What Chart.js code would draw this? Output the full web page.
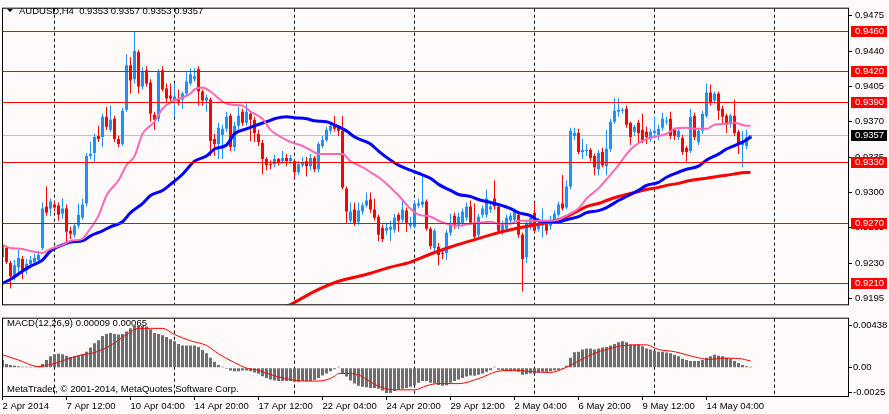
<!DOCTYPE html>
<html>
<head>
<meta charset="utf-8">
<title>AUDUSD,H4</title>
<script src="https://cdn.jsdelivr.net/npm/chart.js@4.4.1/dist/chart.umd.min.js"></script>
<style>
    html, body { margin: 0; padding: 0; background: #FFFAFA; }
    #wrap { position: relative; width: 889px; height: 414px; overflow: hidden; }
    canvas { position: absolute; left: 0; display: block; }
    #price { top: 0; }
    #macd { top: 312px; }
</style>
</head>
<body>
<div id="wrap">
    <canvas id="price" width="889" height="313"></canvas>
    <canvas id="macd" width="889" height="102"></canvas>
</div>
<script>
// H4 bars, index 0 = 2 Apr 2014 20:00 (one slot every 4 hours of trading)
var opens = [
    0.9236, 0.9245, 0.9230, 0.9217, 0.9226, 0.9234, 0.9223, 0.9229, 0.9231, 0.9233,
    0.9245, 0.9286, 0.9284, 0.9288, 0.9287, 0.9279, 0.9284, 0.9262, 0.9258, 0.9267,
    0.9275, 0.9289, 0.9336, 0.9339, 0.9356, 0.9355, 0.9375, 0.9362, 0.9373, 0.9353,
    0.9348, 0.9382, 0.9426, 0.9412, 0.9439, 0.9405, 0.9421, 0.9409, 0.9377, 0.9373,
    0.9421, 0.9403, 0.9396, 0.9391, 0.9392, 0.9392, 0.9398, 0.9408, 0.9412, 0.9422,
    0.9400, 0.9391, 0.9392, 0.9353, 0.9348, 0.9357, 0.9363, 0.9376, 0.9345, 0.9366,
    0.9380, 0.9369, 0.9378, 0.9372, 0.9358, 0.9349, 0.9333, 0.9328, 0.9328, 0.9333,
    0.9331, 0.9334, 0.9331, 0.9331, 0.9320, 0.9327, 0.9331, 0.9326, 0.9334, 0.9323,
    0.9346, 0.9352, 0.9361, 0.9366, 0.9364, 0.9361, 0.9304, 0.9272, 0.9283, 0.9271,
    0.9281, 0.9287, 0.9293, 0.9283, 0.9276, 0.9265, 0.9262, 0.9263, 0.9263, 0.9278,
    0.9273, 0.9282, 0.9267, 0.9266, 0.9287, 0.9288, 0.9291, 0.9264, 0.9245, 0.9246,
    0.9240, 0.9240, 0.9260, 0.9277, 0.9267, 0.9269, 0.9275, 0.9286, 0.9269, 0.9258,
    0.9278, 0.9278, 0.9283, 0.9294, 0.9286, 0.9261, 0.9264, 0.9272, 0.9273, 0.9278,
    0.9258, 0.9236, 0.9266, 0.9280, 0.9264, 0.9267, 0.9269, 0.9267, 0.9272, 0.9278,
    0.9289, 0.9285, 0.9306, 0.9356, 0.9359, 0.9340, 0.9341, 0.9342, 0.9336, 0.9323,
    0.9340, 0.9326, 0.9343, 0.9370, 0.9380, 0.9381, 0.9383, 0.9369, 0.9360, 0.9369,
    0.9362, 0.9360, 0.9355, 0.9359, 0.9357, 0.9364, 0.9370, 0.9373, 0.9362, 0.9355,
    0.9354, 0.9344, 0.9341, 0.9376, 0.9350, 0.9361, 0.9376, 0.9399, 0.9391, 0.9398,
    0.9383, 0.9376, 0.9368, 0.9376, 0.9360, 0.9347, 0.9346, 0.9353
];
var highs = [
    0.9251, 0.9247, 0.9232, 0.9233, 0.9244, 0.9237, 0.9234, 0.9237, 0.9239, 0.9242,
    0.9290, 0.9306, 0.9294, 0.9292, 0.9290, 0.9294, 0.9288, 0.9266, 0.9270, 0.9289,
    0.9294, 0.9339, 0.9350, 0.9358, 0.9366, 0.9378, 0.9385, 0.9386, 0.9376, 0.9356,
    0.9384, 0.9437, 0.9434, 0.9459, 0.9441, 0.9424, 0.9425, 0.9412, 0.9380, 0.9422,
    0.9425, 0.9408, 0.9408, 0.9408, 0.9402, 0.9400, 0.9419, 0.9423, 0.9423, 0.9425,
    0.9402, 0.9397, 0.9394, 0.9358, 0.9369, 0.9367, 0.9380, 0.9378, 0.9370, 0.9385,
    0.9383, 0.9390, 0.9380, 0.9375, 0.9362, 0.9352, 0.9335, 0.9332, 0.9337, 0.9334,
    0.9341, 0.9338, 0.9337, 0.9333, 0.9331, 0.9335, 0.9335, 0.9338, 0.9336, 0.9350,
    0.9356, 0.9365, 0.9370, 0.9376, 0.9366, 0.9376, 0.9306, 0.9290, 0.9290, 0.9290,
    0.9290, 0.9300, 0.9300, 0.9294, 0.9278, 0.9268, 0.9270, 0.9272, 0.9279, 0.9280,
    0.9294, 0.9285, 0.9276, 0.9292, 0.9294, 0.9317, 0.9293, 0.9266, 0.9264, 0.9250,
    0.9242, 0.9263, 0.9279, 0.9280, 0.9280, 0.9284, 0.9290, 0.9292, 0.9289, 0.9279,
    0.9287, 0.9303, 0.9292, 0.9312, 0.9289, 0.9272, 0.9278, 0.9280, 0.9284, 0.9281,
    0.9260, 0.9273, 0.9278, 0.9289, 0.9275, 0.9284, 0.9272, 0.9277, 0.9282, 0.9291,
    0.9317, 0.9312, 0.9364, 0.9364, 0.9363, 0.9353, 0.9348, 0.9344, 0.9338, 0.9342,
    0.9344, 0.9362, 0.9373, 0.9393, 0.9393, 0.9384, 0.9386, 0.9370, 0.9367, 0.9372,
    0.9378, 0.9365, 0.9363, 0.9375, 0.9367, 0.9379, 0.9375, 0.9380, 0.9364, 0.9364,
    0.9357, 0.9346, 0.9383, 0.9379, 0.9364, 0.9381, 0.9408, 0.9407, 0.9400, 0.9400,
    0.9386, 0.9378, 0.9378, 0.9392, 0.9362, 0.9361, 0.9362, 0.9357
];
var lows = [
    0.9233, 0.9229, 0.9205, 0.9213, 0.9217, 0.9214, 0.9219, 0.9225, 0.9228, 0.9230,
    0.9243, 0.9277, 0.9277, 0.9281, 0.9272, 0.9274, 0.9251, 0.9254, 0.9255, 0.9264,
    0.9273, 0.9286, 0.9333, 0.9330, 0.9350, 0.9345, 0.9362, 0.9360, 0.9350, 0.9345,
    0.9346, 0.9380, 0.9398, 0.9408, 0.9398, 0.9402, 0.9405, 0.9370, 0.9362, 0.9370,
    0.9400, 0.9389, 0.9390, 0.9375, 0.9386, 0.9383, 0.9396, 0.9406, 0.9410, 0.9386,
    0.9386, 0.9380, 0.9336, 0.9336, 0.9333, 0.9333, 0.9360, 0.9341, 0.9341, 0.9362,
    0.9366, 0.9366, 0.9351, 0.9350, 0.9346, 0.9318, 0.9322, 0.9323, 0.9325, 0.9327,
    0.9328, 0.9326, 0.9328, 0.9314, 0.9317, 0.9325, 0.9316, 0.9322, 0.9320, 0.9320,
    0.9344, 0.9350, 0.9358, 0.9360, 0.9356, 0.9303, 0.9270, 0.9270, 0.9267, 0.9268,
    0.9278, 0.9285, 0.9280, 0.9272, 0.9252, 0.9251, 0.9258, 0.9252, 0.9260, 0.9261,
    0.9270, 0.9261, 0.9264, 0.9264, 0.9284, 0.9285, 0.9262, 0.9244, 0.9239, 0.9228,
    0.9234, 0.9233, 0.9257, 0.9264, 0.9264, 0.9266, 0.9272, 0.9268, 0.9253, 0.9255,
    0.9275, 0.9275, 0.9280, 0.9283, 0.9260, 0.9258, 0.9262, 0.9269, 0.9270, 0.9255,
    0.9202, 0.9230, 0.9263, 0.9260, 0.9261, 0.9255, 0.9258, 0.9263, 0.9270, 0.9276,
    0.9282, 0.9283, 0.9303, 0.9352, 0.9338, 0.9333, 0.9336, 0.9331, 0.9317, 0.9317,
    0.9325, 0.9317, 0.9340, 0.9368, 0.9375, 0.9378, 0.9364, 0.9347, 0.9356, 0.9348,
    0.9349, 0.9348, 0.9350, 0.9354, 0.9352, 0.9361, 0.9367, 0.9353, 0.9352, 0.9352,
    0.9337, 0.9331, 0.9339, 0.9352, 0.9347, 0.9358, 0.9374, 0.9386, 0.9388, 0.9372,
    0.9367, 0.9359, 0.9364, 0.9356, 0.9338, 0.9325, 0.9343, 0.9353
];
var closes = [
    0.9248, 0.9231, 0.9217, 0.9228, 0.9235, 0.9222, 0.9229, 0.9233, 0.9235, 0.9238,
    0.9284, 0.9280, 0.9291, 0.9285, 0.9278, 0.9284, 0.9261, 0.9259, 0.9267, 0.9278,
    0.9288, 0.9336, 0.9338, 0.9355, 0.9353, 0.9375, 0.9365, 0.9372, 0.9353, 0.9348,
    0.9381, 0.9426, 0.9411, 0.9440, 0.9405, 0.9420, 0.9408, 0.9378, 0.9372, 0.9419,
    0.9402, 0.9393, 0.9393, 0.9395, 0.9390, 0.9398, 0.9410, 0.9417, 0.9415, 0.9400,
    0.9391, 0.9394, 0.9351, 0.9348, 0.9364, 0.9363, 0.9375, 0.9345, 0.9366, 0.9376,
    0.9369, 0.9380, 0.9372, 0.9359, 0.9350, 0.9333, 0.9327, 0.9327, 0.9333, 0.9330,
    0.9334, 0.9331, 0.9334, 0.9320, 0.9328, 0.9330, 0.9326, 0.9334, 0.9323, 0.9348,
    0.9352, 0.9362, 0.9366, 0.9363, 0.9361, 0.9305, 0.9281, 0.9281, 0.9270, 0.9282,
    0.9287, 0.9292, 0.9283, 0.9275, 0.9258, 0.9254, 0.9265, 0.9266, 0.9275, 0.9272,
    0.9283, 0.9270, 0.9270, 0.9289, 0.9289, 0.9291, 0.9264, 0.9247, 0.9262, 0.9238,
    0.9239, 0.9260, 0.9270, 0.9267, 0.9276, 0.9281, 0.9286, 0.9270, 0.9256, 0.9276,
    0.9284, 0.9294, 0.9286, 0.9286, 0.9262, 0.9269, 0.9275, 0.9277, 0.9281, 0.9258,
    0.9234, 0.9270, 0.9275, 0.9262, 0.9270, 0.9272, 0.9262, 0.9273, 0.9279, 0.9288,
    0.9284, 0.9306, 0.9361, 0.9359, 0.9340, 0.9342, 0.9342, 0.9334, 0.9325, 0.9339,
    0.9327, 0.9343, 0.9370, 0.9381, 0.9382, 0.9382, 0.9367, 0.9355, 0.9365, 0.9359,
    0.9352, 0.9355, 0.9360, 0.9361, 0.9363, 0.9373, 0.9371, 0.9356, 0.9356, 0.9361,
    0.9340, 0.9340, 0.9375, 0.9355, 0.9361, 0.9378, 0.9399, 0.9389, 0.9398, 0.9381,
    0.9375, 0.9367, 0.9376, 0.9359, 0.9348, 0.9349, 0.9355, 0.9357
];

// moving averages: [bar index, price]
var maFast = [
    [0, 0.9248], [2, 0.9245], [5, 0.9244], [7, 0.9242], [10, 0.9240], [12, 0.9244], [15, 0.9248],
    [17, 0.9252], [20, 0.9254], [21, 0.9259], [24, 0.9277], [26, 0.9297], [29, 0.9312], [31, 0.9327],
    [33, 0.9336], [35, 0.9358], [38, 0.9370], [40, 0.9383], [43, 0.9391], [45, 0.9394], [47, 0.9398],
    [48, 0.9402], [50, 0.9404], [52, 0.9400], [55, 0.9390], [57, 0.9387], [60, 0.9386], [62, 0.9380],
    [65, 0.9373], [67, 0.9362], [70, 0.9354], [72, 0.9350], [75, 0.9346], [77, 0.9342], [79, 0.9338],
    [82, 0.9338], [85, 0.9338], [87, 0.9331], [90, 0.9325], [92, 0.9320], [94, 0.9315], [97, 0.9305],
    [99, 0.9297], [102, 0.9284], [104, 0.9278], [107, 0.9276], [109, 0.9272], [112, 0.9268],
    [114, 0.9267], [117, 0.9269], [119, 0.9270], [122, 0.9271], [124, 0.9269], [127, 0.9269],
    [129, 0.9272], [132, 0.9272], [134, 0.9272], [137, 0.9272], [139, 0.9273], [141, 0.9277],
    [144, 0.9284], [146, 0.9294], [149, 0.9304], [151, 0.9313], [154, 0.9327], [156, 0.9338],
    [158, 0.9346], [161, 0.9353], [163, 0.9355], [166, 0.9358], [168, 0.9363], [171, 0.9364],
    [173, 0.9363], [176, 0.9363], [178, 0.9367], [181, 0.9368], [183, 0.9369], [186, 0.9366], [187, 0.9366]
];
var maMid = [
    [0, 0.9210], [2, 0.9214], [5, 0.9222], [7, 0.9227], [10, 0.9233], [12, 0.9242], [15, 0.9248],
    [17, 0.9251], [20, 0.9252], [22, 0.9257], [25, 0.9262], [27, 0.9266], [30, 0.9271], [32, 0.9280],
    [35, 0.9289], [37, 0.9297], [40, 0.9302], [42, 0.9308], [45, 0.9318], [48, 0.9331], [51, 0.9336],
    [53, 0.9343], [56, 0.9347], [58, 0.9358], [61, 0.9363], [63, 0.9366], [66, 0.9370], [68, 0.9373],
    [71, 0.9375], [73, 0.9374], [76, 0.9373], [78, 0.9371], [81, 0.9370], [83, 0.9367], [86, 0.9361],
    [88, 0.9355], [91, 0.9350], [92, 0.9348], [94, 0.9341], [97, 0.9332], [99, 0.9327], [102, 0.9322],
    [104, 0.9319], [107, 0.9314], [109, 0.9308], [112, 0.9302], [114, 0.9298], [117, 0.9296],
    [119, 0.9293], [122, 0.9290], [124, 0.9288], [127, 0.9284], [129, 0.9280], [132, 0.9277],
    [134, 0.9272], [137, 0.9271], [139, 0.9271], [141, 0.9273], [144, 0.9276], [146, 0.9280],
    [149, 0.9282], [151, 0.9285], [154, 0.9292], [156, 0.9296], [159, 0.9302], [161, 0.9307],
    [164, 0.9310], [166, 0.9315], [169, 0.9320], [171, 0.9323], [174, 0.9326], [176, 0.9332],
    [179, 0.9338], [181, 0.9343], [184, 0.9348], [186, 0.9352], [187, 0.9355]
];
var maSlow = [
    [70, 0.9186], [72, 0.9189], [78, 0.9202], [84, 0.9212], [88, 0.9216], [92, 0.9220], [97, 0.9226],
    [102, 0.9231], [107, 0.9239], [112, 0.9246], [117, 0.9252], [122, 0.9258], [127, 0.9263],
    [132, 0.9267], [137, 0.9271], [139, 0.9273], [141, 0.9276], [144, 0.9282], [146, 0.9286],
    [149, 0.9289], [151, 0.9292], [154, 0.9296], [156, 0.9298], [159, 0.9301], [161, 0.9303],
    [164, 0.9305], [166, 0.9307], [169, 0.9309], [171, 0.9311], [174, 0.9313], [176, 0.9314],
    [179, 0.9316], [181, 0.9317], [184, 0.9319], [187, 0.9320]
];

// MACD(12,26,9) histogram, one value per bar, and its signal line
var macdHist = [
    0.00080, 0.00038, 0.00029, 0.00022, 0.00016, 0.00006, 0.00002, 0.00001, 0.00002, 0.00016,
    0.00038, 0.00080, 0.00118, 0.00140, 0.00144, 0.00140, 0.00125, 0.00112, 0.00118, 0.00125,
    0.00140, 0.00166, 0.00208, 0.00252, 0.00284, 0.00326, 0.00348, 0.00358, 0.00348, 0.00342,
    0.00348, 0.00374, 0.00406, 0.00438, 0.00438, 0.00432, 0.00425, 0.00396, 0.00358, 0.00348,
    0.00336, 0.00316, 0.00294, 0.00272, 0.00246, 0.00230, 0.00230, 0.00230, 0.00230, 0.00214,
    0.00182, 0.00150, 0.00102, 0.00061, 0.00029, 0.00010, -0.00003, -0.00028, -0.00035, -0.00035,
    -0.00028, -0.00028, -0.00035, -0.00048, -0.00061, -0.00086, -0.00105, -0.00121, -0.00131, -0.00137,
    -0.00137, -0.00137, -0.00137, -0.00144, -0.00144, -0.00137, -0.00137, -0.00137, -0.00125, -0.00105,
    -0.00080, -0.00058, -0.00035, -0.00016, 0.00006, -0.00058, -0.00089, -0.00131, -0.00163, -0.00185,
    -0.00195, -0.00201, -0.00208, -0.00208, -0.00217, -0.00233, -0.00259, -0.00259, -0.00240, -0.00227,
    -0.00217, -0.00208, -0.00195, -0.00176, -0.00153, -0.00137, -0.00137, -0.00153, -0.00163, -0.00176,
    -0.00185, -0.00180, -0.00153, -0.00137, -0.00121, -0.00105, -0.00089, -0.00080, -0.00083, -0.00073,
    -0.00058, -0.00042, -0.00026, 0.00003, -0.00019, -0.00026, -0.00035, -0.00035, -0.00035, -0.00042,
    -0.00073, -0.00067, -0.00058, -0.00058, -0.00048, -0.00042, -0.00042, -0.00035, -0.00029, -0.00022,
    -0.00010, 0.00022, 0.00102, 0.00160, 0.00166, 0.00188, 0.00198, 0.00198, 0.00188, 0.00198,
    0.00208, 0.00214, 0.00230, 0.00246, 0.00262, 0.00272, 0.00262, 0.00240, 0.00240, 0.00240,
    0.00221, 0.00198, 0.00188, 0.00176, 0.00166, 0.00166, 0.00157, 0.00150, 0.00134, 0.00118,
    0.00093, 0.00080, 0.00070, 0.00070, 0.00070, 0.00080, 0.00102, 0.00118, 0.00134, 0.00125,
    0.00118, 0.00102, 0.00093, 0.00070, 0.00048, 0.00029, 0.00016, 0.00009
];
var macdSignal = [
    [0, 0.00134], [4, 0.00080], [9, 0.00013], [13, 0.00045], [16, 0.00086], [19, 0.00125],
    [23, 0.00157], [27, 0.00230], [31, 0.00342], [34, 0.00406], [37, 0.00406], [40, 0.00406],
    [43, 0.00342], [47, 0.00278], [51, 0.00230], [54, 0.00144], [58, 0.00054], [61, -0.00003],
    [64, -0.00026], [68, -0.00083], [73, -0.00128], [76, -0.00137], [79, -0.00137], [83, -0.00089],
    [84, -0.00058], [86, -0.00058], [89, -0.00073], [93, -0.00169], [96, -0.00217], [99, -0.00227],
    [103, -0.00227], [106, -0.00185], [109, -0.00163], [114, -0.00163], [119, -0.00112],
    [124, -0.00035], [128, -0.00026], [133, -0.00042], [137, -0.00048], [141, 0.00006],
    [144, 0.00070], [148, 0.00150], [151, 0.00188], [154, 0.00221], [158, 0.00236], [161, 0.00236],
    [164, 0.00188], [168, 0.00166], [171, 0.00134], [174, 0.00102], [177, 0.00086], [180, 0.00099],
    [184, 0.00096], [187, 0.00070]
];

// horizontal levels drawn on the chart, and the last price
var levels = [0.9460, 0.9420, 0.9390, 0.9330, 0.9270, 0.9210];
var lastPrice = 0.9357;
var priceTicks = [0.9195, 0.9230, 0.9265, 0.9300, 0.9335, 0.9370, 0.9405, 0.9440, 0.9475];
var macdTicks = [-0.0025, 0, 0.00438];

// time axis: labels every 16 bars, dashed line at each Monday 00:00
var xTickIdx = [0, 16, 32, 48, 64, 80, 96, 112, 128, 144, 160, 176];
var xTickText = ["2 Apr 2014", "7 Apr 12:00", "10 Apr 04:00", "14 Apr 20:00", "17 Apr 12:00",
    "22 Apr 04:00", "24 Apr 20:00", "29 Apr 12:00", "2 May 04:00", "6 May 20:00",
    "9 May 12:00", "14 May 04:00"];
var weekIdx = [13, 43, 73, 103, 133, 163, 193];

var X_MIN = -0.125, X_MAX = 211.375;
var UP = "#1E90FF", DOWN = "#FF0000";
var FONT = { family: "'Liberation Sans', Arial, sans-serif", size: 9.5 };
var FONT_CSS = "9.5px 'Liberation Sans', Arial, sans-serif";
var CLEAR = "rgba(0,0,0,0)";

Chart.defaults.font.family = FONT.family;
Chart.defaults.font.size = 9.5;
Chart.defaults.color = "#000";

function toPoints(pairs) {
    return pairs.map(function (p) { return { x: p[0], y: p[1] }; });
}
function tickIn(list) {
    return function (c) { return c.tick && list.indexOf(c.tick.value) >= 0 ? "#000" : CLEAR; };
}

var candleColors = opens.map(function (o, i) { return closes[i] >= o ? UP : DOWN; });
var bodies = opens.map(function (o, i) { return { x: i, y: [o, closes[i]] }; });
var wicks = highs.map(function (h, i) { return { x: i, y: [lows[i], h] }; });

// frame round the plot area
var framePlugin = {
    id: "frame",
    afterDraw: function (chart) {
        var a = chart.chartArea, ctx = chart.ctx;
        ctx.save();
        ctx.strokeStyle = "#000";
        ctx.lineWidth = 1;
        ctx.strokeRect(a.left + 0.5, a.top - 0.5, a.right - a.left, a.bottom - a.top + 1);
        ctx.restore();
    }
};

// level lines (snapped to whole pixels like the terminal draws them) and their price tags
var priceLabels = {
    id: "priceLabels",
    beforeDatasetsDraw: function (chart) {
        var ctx = chart.ctx, a = chart.chartArea, y = chart.scales.y;
        var lp = Math.round(y.getPixelForValue(lastPrice)) + 0.5;
        ctx.save();
        ctx.lineWidth = 1;
        ctx.strokeStyle = "#C0C0C0";
        ctx.beginPath(); ctx.moveTo(a.left, lp); ctx.lineTo(a.right, lp); ctx.stroke();
        ctx.restore();
    },
    afterDatasetsDraw: function (chart) {
        var ctx = chart.ctx, a = chart.chartArea, y = chart.scales.y;
        ctx.save();
        ctx.lineWidth = 1;
        ctx.strokeStyle = "#FF0000";
        levels.forEach(function (lv) {
            var py = Math.round(y.getPixelForValue(lv)) + 0.5;
            ctx.beginPath(); ctx.moveTo(a.left, py); ctx.lineTo(a.right, py); ctx.stroke();
        });
        ctx.restore();
    },
    afterDraw: function (chart) {
        var ctx = chart.ctx, a = chart.chartArea, y = chart.scales.y;
        ctx.save();
        ctx.font = FONT_CSS;
        ctx.textBaseline = "middle";
        levels.forEach(function (lv) {
            var py = Math.round(y.getPixelForValue(lv));
            ctx.fillStyle = "#FF0000";
            ctx.fillRect(a.right + 3, py - 5, 36, 11);
            ctx.fillStyle = "#FFFFFF";
            ctx.fillText(lv.toFixed(4), a.right + 7, py + 0.5);
        });
        var lp = Math.round(y.getPixelForValue(lastPrice));
        ctx.fillStyle = "#000000";
        ctx.fillRect(a.right + 3, lp - 5, 36, 11);
        ctx.fillStyle = "#FFFFFF";
        ctx.fillText(lastPrice.toFixed(4), a.right + 7, lp + 0.5);

        // window caption
        ctx.fillStyle = "#000";
        ctx.beginPath();
        ctx.moveTo(7, 9); ctx.lineTo(13, 9); ctx.lineTo(10, 12); ctx.closePath();
        ctx.fill();
        ctx.fillText("AUDUSD,H4  0.9353 0.9357 0.9353 0.9357", 19, 11);
        ctx.restore();
    }
};

var macdLabels = {
    id: "macdLabels",
    beforeDatasetsDraw: function (chart) {
        var ctx = chart.ctx;
        ctx.save();
        ctx.font = FONT_CSS;
        ctx.textBaseline = "middle";
        ctx.fillStyle = "#000";
        ctx.fillText("MACD(12,26,9) 0.00009 0.00065", 7, 11);
        ctx.fillText("MetaTrader, \u00A9 2001-2014, MetaQuotes Software Corp.", 7, 77);
        ctx.restore();
    }
};

// price panel
new Chart(document.getElementById("price"), {
    type: "bar",
    data: {
        datasets: [
            { type: "line", data: toPoints(maFast), borderColor: "#FF69B4", borderWidth: 2, pointRadius: 0, cubicInterpolationMode: "monotone", order: 1 },
            { type: "line", data: toPoints(maMid), borderColor: "#0000FF", borderWidth: 3, pointRadius: 0, cubicInterpolationMode: "monotone", order: 1 },
            { type: "line", data: toPoints(maSlow), borderColor: "#FF0000", borderWidth: 3, pointRadius: 0, cubicInterpolationMode: "monotone", order: 1 },
            { data: bodies, backgroundColor: candleColors, barThickness: 3, minBarLength: 1, grouped: false, inflateAmount: 0, order: 2 },
            { data: wicks, backgroundColor: candleColors, barThickness: 1, minBarLength: 1, grouped: false, inflateAmount: 0, order: 3 }
        ]
    },
    options: {
        responsive: false,
        animation: false,
        devicePixelRatio: 1,
        events: [],
        layout: { padding: { left: 2, top: 1, right: 0, bottom: 2 } },
        plugins: { legend: { display: false }, tooltip: { enabled: false } },
        scales: {
            x: {
                type: "linear",
                min: X_MIN,
                max: X_MAX,
                offset: false,
                afterBuildTicks: function (s) { s.ticks = weekIdx.map(function (v) { return { value: v }; }); },
                afterFit: function (s) { s.height = 0; },
                ticks: { display: false },
                grid: { offset: false, color: "#000", lineWidth: 1, drawTicks: false },
                border: { display: false, dash: [3, 3] }
            },
            y: {
                position: "right",
                min: 0.91892,
                max: 0.94820,
                afterBuildTicks: function (s) { s.ticks = priceTicks.map(function (v) { return { value: v }; }); },
                afterFit: function (s) { s.width = 41; },
                ticks: { font: FONT, color: "#000", padding: 3, callback: function (v) { return v.toFixed(4); } },
                grid: { drawOnChartArea: false, tickLength: 4, color: "#000" },
                border: { color: "#000" }
            }
        }
    },
    plugins: [framePlugin, priceLabels]
});

// MACD panel
new Chart(document.getElementById("macd"), {
    type: "bar",
    data: {
        datasets: [
            { type: "line", data: toPoints(macdSignal), borderColor: "#FF0000", borderWidth: 1, pointRadius: 0, cubicInterpolationMode: "monotone" },
            {
                data: macdHist.map(function (v, i) { return { x: i, y: v }; }),
                backgroundColor: "#6E6E6E", barThickness: 3, minBarLength: 1, inflateAmount: 0
            }
        ]
    },
    options: {
        responsive: false,
        animation: false,
        devicePixelRatio: 1,
        events: [],
        layout: { padding: { left: 2, top: 1, right: 0, bottom: 0 } },
        plugins: { legend: { display: false }, tooltip: { enabled: false } },
        scales: {
            x: {
                type: "linear",
                min: X_MIN,
                max: X_MAX,
                offset: false,
                afterBuildTicks: function (s) {
                    var all = weekIdx.concat(xTickIdx).sort(function (a, b) { return a - b; });
                    s.ticks = all.map(function (v) { return { value: v }; });
                },
                afterFit: function (s) { s.height = 18; },
                ticks: {
                    font: FONT, color: "#000", align: "start", padding: 1,
                    autoSkip: false, maxRotation: 0, minRotation: 0,
                    callback: function (v) {
                        var k = xTickIdx.indexOf(v);
                        return k >= 0 ? xTickText[k] : "";
                    }
                },
                grid: {
                    offset: false, lineWidth: 1, tickLength: 4,
                    color: tickIn(weekIdx),
                    tickColor: tickIn(xTickIdx)
                },
                border: { display: false, dash: [3, 3] }
            },
            y: {
                position: "right",
                min: -0.002905,
                max: 0.005053,
                afterBuildTicks: function (s) { s.ticks = macdTicks.map(function (v) { return { value: v }; }); },
                afterFit: function (s) { s.width = 41; },
                ticks: {
                    font: FONT, color: "#000", padding: 1,
                    callback: function (v) { return v === 0 ? "0.00" : (v < 0 ? v.toFixed(4) : v.toFixed(5)); }
                },
                grid: { drawOnChartArea: false, tickLength: 4, color: "#000" },
                border: { color: "#000" }
            }
        }
    },
    plugins: [framePlugin, macdLabels]
});
</script>
</body>
</html>
